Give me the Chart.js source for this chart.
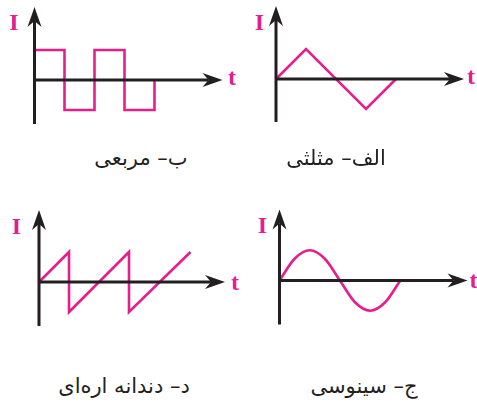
<!DOCTYPE html>
<html>
<head>
<meta charset="utf-8">
<script src="https://cdn.jsdelivr.net/npm/chart.js@4.4.1/dist/chart.umd.min.js"></script>
<style>
    body { margin: 0; background: #fff; }
    #wrap { position: relative; width: 477px; height: 410px; overflow: hidden; }
    canvas { position: absolute; }
    .lbl { position: absolute; transform: translate(-50%, -50%); white-space: nowrap; }
    .axis-name { font-family: "Liberation Serif", "DejaVu Serif", serif; font-weight: bold; font-size: 24px; line-height: 24px; color: #e61e8c; }
    .caption { font-family: "DejaVu Sans", sans-serif; font-size: 21px; line-height: 28px; color: #231f20; direction: rtl; }
</style>
</head>
<body>
<div id="wrap"></div>
<script>
// wave data, x in quarter/half-period steps, y in amplitude units
const squareX = [0, 0, 1, 1, 2, 2, 3, 3, 4, 4];
const squareY = [0, 1, 1, -1, -1, 1, 1, -1, -1, 0];

const triangleX = [0, 1, 3, 4];
const triangleY = [0, 1, -1, 0];

const sawX = [0, 1, 1, 3, 3, 5.05];
const sawY = [0, 1, -1, 1, -1, 1];

const sineX = [0, 0.5, 1, 1.5, 2, 2.5, 3, 3.5, 4];
const sineY = [0, 0.72, 1, 0.72, 0, -0.72, -1, -0.72, 0];

const captions = ['ب– مربعی', 'الف– مثلثی', 'د– دندانه اره‌ای', 'ج– سینوسی'];
const axisNames = ['I', 't'];

const PINK = '#e61e8c';
const INK = '#231f20';

// layout: canvas box, origin pixel, pixels per unit, axis lengths (px)
const panels = [
    { xs: squareX, ys: squareY, box: [0, 0, 240, 135], origin: [34.5, 80], unit: 30, right: 188, up: 73, down: 44, smooth: false,
      iPos: [14, 22], tPos: [232, 77], cap: 0, capPos: [141, 158] },
    { xs: triangleX, ys: triangleY, box: [240, 0, 237, 135], origin: [276, 79], unit: 30, right: 188, up: 73, down: 43, smooth: false,
      iPos: [259.5, 22], tPos: [471, 76], cap: 1, capPos: [336, 158] },
    { xs: sawX, ys: sawY, box: [0, 200, 240, 135], origin: [39, 282], unit: 30, right: 186, up: 72, down: 44, smooth: false,
      iPos: [16.5, 226], tPos: [235, 282], cap: 2, capPos: [124, 386] },
    { xs: sineX, ys: sineY, box: [240, 200, 237, 135], origin: [279.5, 280.5], unit: 30.2, right: 188, up: 71, down: 44, smooth: true,
      iPos: [262.5, 225], tPos: [473.5, 280], cap: 3, capPos: [364, 386] }
];

function arrowHead(ctx, tipX, tipY, dx, dy) {
    // dx, dy = unit direction of the arrow
    const L = 20, W = 7, notch = 14;
    const px = -dy, py = dx;
    ctx.beginPath();
    ctx.moveTo(tipX, tipY);
    ctx.lineTo(tipX - dx * L + px * W, tipY - dy * L + py * W);
    ctx.lineTo(tipX - dx * notch, tipY - dy * notch);
    ctx.lineTo(tipX - dx * L - px * W, tipY - dy * L - py * W);
    ctx.closePath();
    ctx.fill();
}

const axesPlugin = {
    id: 'arrowAxes',
    afterDatasetsDraw(chart, args, opts) {
        const p = opts.panel;
        const ctx = chart.ctx;
        const x0 = chart.scales.x.getPixelForValue(0);
        const y0 = chart.scales.y.getPixelForValue(0);
        const xEnd = x0 + p.right;
        const yTop = y0 - p.up;
        const yBot = y0 + p.down;
        ctx.save();
        ctx.strokeStyle = INK;
        ctx.fillStyle = INK;
        ctx.lineWidth = 3;
        ctx.lineCap = 'butt';
        ctx.beginPath();
        ctx.moveTo(x0, yBot);
        ctx.lineTo(x0, yTop + 14);
        ctx.moveTo(x0 - 1.5, y0);
        ctx.lineTo(xEnd - 14, y0);
        ctx.stroke();
        arrowHead(ctx, x0, yTop, 0, -1);
        arrowHead(ctx, xEnd, y0, 1, 0);
        ctx.restore();
    }
};

const wrap = document.getElementById('wrap');

panels.forEach(p => {
    const [bx, by, bw, bh] = p.box;
    const canvas = document.createElement('canvas');
    canvas.width = bw;
    canvas.height = bh;
    canvas.style.left = bx + 'px';
    canvas.style.top = by + 'px';
    canvas.style.width = bw + 'px';
    canvas.style.height = bh + 'px';
    wrap.appendChild(canvas);

    const xMin = (bx - p.origin[0]) / p.unit;
    const xMax = (bx + bw - p.origin[0]) / p.unit;
    const yMax = (p.origin[1] - by) / p.unit;
    const yMin = (p.origin[1] - by - bh) / p.unit;

    new Chart(canvas, {
        type: 'line',
        data: {
            datasets: [{
                data: p.xs.map((x, i) => ({ x: x, y: p.ys[i] })),
                borderColor: PINK,
                borderWidth: 2.6,
                borderJoinStyle: 'miter',
                pointRadius: 0,
                fill: false,
                cubicInterpolationMode: p.smooth ? 'monotone' : 'default',
                tension: 0,
                clip: false
            }]
        },
        options: {
            responsive: false,
            animation: false,
            events: [],
            layout: { padding: 0 },
            plugins: {
                legend: { display: false },
                tooltip: { enabled: false },
                arrowAxes: { panel: p }
            },
            scales: {
                x: { type: 'linear', min: xMin, max: xMax, display: false },
                y: { type: 'linear', min: yMin, max: yMax, display: false }
            }
        },
        plugins: [axesPlugin]
    });

    const addLabel = (text, pos, cls) => {
        const d = document.createElement('div');
        d.className = 'lbl ' + cls;
        d.textContent = text;
        d.style.left = pos[0] + 'px';
        d.style.top = pos[1] + 'px';
        wrap.appendChild(d);
    };
    addLabel(axisNames[0], p.iPos, 'axis-name');
    addLabel(axisNames[1], p.tPos, 'axis-name');
    addLabel(captions[p.cap], p.capPos, 'caption');
});
</script>
</body>
</html>
